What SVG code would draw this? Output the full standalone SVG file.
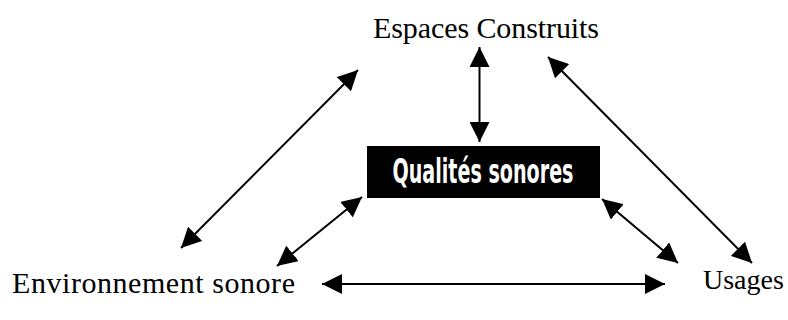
<svg xmlns="http://www.w3.org/2000/svg" width="788" height="320" viewBox="0 0 788 320">
  <style>
    .lbl { font-family: "Liberation Serif", "Times New Roman", serif; font-size: 30px; fill: #000; }
    .conn { stroke: #000; stroke-width: 2; fill: none; marker-start: url(#ah); marker-end: url(#ah); }
    .qs { font-family: "Liberation Sans Narrow", "DejaVu Sans Condensed", sans-serif; font-weight: bold; font-size: 33px; fill: #fff; }
  </style>
  <defs>
    <marker id="ah" viewBox="0 0 20 20" refX="20" refY="10" markerWidth="20" markerHeight="20" markerUnits="userSpaceOnUse" orient="auto-start-reverse">
      <path d="M0,0 L20,10 L0,20 Z" fill="#000"/>
    </marker>
  </defs>
  <rect width="788" height="320" fill="#fff"/>
  <g id="espaces">
    <text class="lbl" x="486" y="38" text-anchor="middle" textLength="226" lengthAdjust="spacing">Espaces Construits</text>
  </g>
  <g id="qualites">
    <rect x="367" y="146" width="233" height="52" fill="#000"/>
    <text class="qs" x="483" y="183" text-anchor="middle" textLength="181" lengthAdjust="spacingAndGlyphs">Qualités sonores</text>
  </g>
  <g id="environnement">
    <text class="lbl" x="12" y="293" textLength="283" lengthAdjust="spacing">Environnement sonore</text>
  </g>
  <g id="usages">
    <text class="lbl" x="703" y="289" style="font-size:28px">Usages</text>
  </g>
  <g id="connectors">
    <line class="conn" x1="479.5" y1="47" x2="479.5" y2="142"/>
    <line class="conn" x1="358" y1="70" x2="181" y2="248"/>
    <line class="conn" x1="362" y1="197" x2="277" y2="266"/>
    <line class="conn" x1="548" y1="57" x2="752" y2="263"/>
    <line class="conn" x1="602" y1="199" x2="678" y2="263"/>
    <line class="conn" x1="322" y1="284" x2="665" y2="284"/>
  </g>
</svg>
